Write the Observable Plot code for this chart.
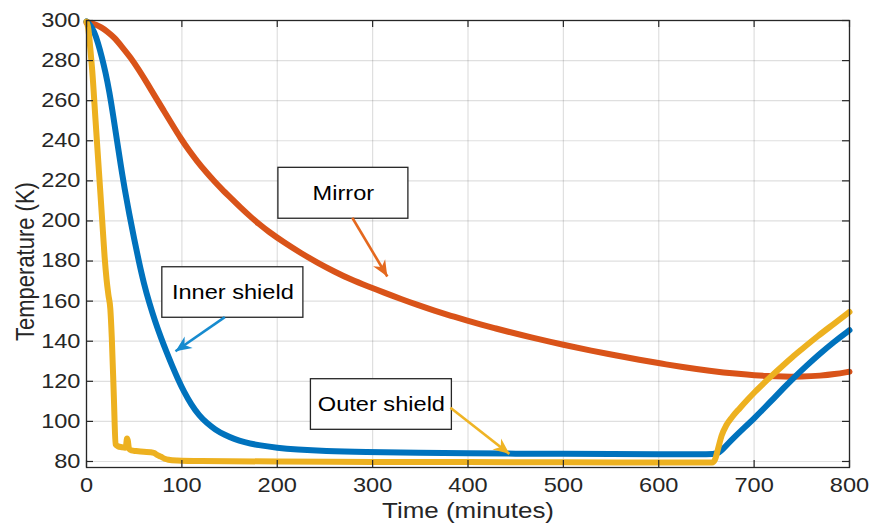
<!DOCTYPE html>
<html>
<head>
<meta charset="utf-8">
<script src="https://cdn.jsdelivr.net/npm/d3@7"></script>
<script src="https://cdn.jsdelivr.net/npm/@observablehq/plot@0.6"></script>
<style>
  html, body { margin: 0; padding: 0; background: #ffffff; }
  #chart { width: 873px; height: 529px; }
</style>
</head>
<body>
<div id="chart"></div>
<script>
// ---------- data ----------
const mirrorTime = [0, 4, 10, 15, 22, 29, 37, 46, 55, 64, 72, 81, 90, 99, 108, 116, 125, 134, 142, 151, 161, 172, 181, 190, 207, 225, 242, 260, 277, 295, 312, 330, 347, 365, 382, 400, 414, 428, 440, 466, 501, 530, 554, 580, 603, 624, 652, 687, 700, 714, 730, 750, 770, 784, 800];
const mirrorTemp = [299, 298.8, 298, 296.7, 294.5, 291.6, 287, 281.7, 275.3, 268.4, 262, 255, 248, 241, 234.8, 229.8, 224.6, 219.8, 215.8, 211.6, 206.9, 202.1, 198.4, 195, 189.3, 183.9, 179.2, 174.7, 170.8, 167.4, 164.3, 161, 158.1, 155.2, 152.7, 150.2, 148.3, 146.5, 145, 141.9, 138.1, 135.2, 133, 130.7, 128.8, 127.2, 125.3, 123.5, 123, 122.6, 122.3, 122.3, 122.8, 123.5, 124.8];

const innerTime = [0, 4, 8, 12, 16, 20, 24, 28, 32, 36, 40, 45, 50, 55, 60, 66, 72, 78, 84, 90, 96, 102, 110, 118, 126, 135, 145, 155, 165, 180, 200, 220, 250, 290, 350, 400, 450, 500, 550, 600, 640, 659, 663, 667, 672, 679, 690, 701, 712, 720, 730, 742, 755, 767, 784, 800];
const innerTemp = [299.5, 297.8, 294.5, 289, 282, 274, 264.5, 252.5, 240, 227.5, 216, 203, 191, 179.5, 169, 158.8, 149.8, 141.8, 134.5, 127.5, 121, 115, 108.3, 103, 99.2, 95.9, 93.2, 91.2, 89.7, 88.1, 86.8, 86, 85.2, 84.7, 84.3, 84.1, 83.9, 83.8, 83.7, 83.6, 83.6, 83.6, 84.4, 86, 88.6, 92, 97, 102, 107.3, 111.2, 116.2, 122, 127.8, 133, 139.8, 145.5];

const outerTime = [0, 2, 4, 6, 9.5, 13, 16.5, 19, 21, 23, 25, 26.5, 28.7, 30.5, 33, 37, 40.5, 41.5, 42.5, 43.3, 44.5, 47, 52, 60, 67, 71, 74, 78, 82, 86, 95, 120, 200, 300, 400, 500, 600, 656, 659, 662, 666, 671, 677, 685, 693, 701, 710, 718, 730, 740, 750, 767, 784, 800];
const outerTemp = [299.5, 295.5, 286, 275, 250, 225, 200, 182, 171, 163, 156, 142, 112, 88.5, 87.6, 87.1, 86.8, 88, 91.5, 90.5, 86.5, 85.5, 85.2, 84.8, 84.6, 84.2, 83.3, 82.4, 81.4, 80.9, 80.5, 80.2, 80, 79.8, 79.7, 79.6, 79.5, 79.5, 81, 86, 93, 98.2, 102.2, 106.6, 110.8, 114.8, 119, 122.6, 127.8, 132, 136, 142.6, 148.8, 154.6];

const xTicks = [0, 100, 200, 300, 400, 500, 600, 700, 800];
const yTicks = [80, 100, 120, 140, 160, 180, 200, 220, 240, 260, 280, 300];

const xLabel = "Time (minutes)";
const yLabel = "Temperature (K)";

// annotation boxes and arrows, in data units (minutes, K)
const noteText = ["Mirror", "Inner shield", "Outer shield"];
const noteBoxT1 = [201.2, 79.5, 235.3];
const noteBoxT2 = [337.5, 227.4, 383.1];
const noteBoxK1 = [201.1, 151.7, 95.8];
const noteBoxK2 = [226.5, 176.9, 121.05];
const arrowT1 = [278.7, 145.0, 381.6];
const arrowK1 = [201.6, 152.0, 106.8];
const arrowT2 = [315.4, 93.3, 443.4];
const arrowK2 = [172.3, 135.0, 83.8];

// ---------- styles ----------
const colMirror = "#D95319", colInner = "#0072BD", colOuter = "#EDB120";
const arrowColors = ["#E4681E", "#178BCF", "#EFB425"];
const ink = "#262626";

const rows = (ts, ks) => ts.map((t, i) => ({t, k: ks[i]}));
const notes = noteText.map((s, i) => ({s, i}));

const plotW = 873 - 86 - 24, plotH = 529 - 20 - 62;

const svg = Plot.plot({
  width: 873,
  height: 529,
  marginLeft: 86,
  marginRight: 24,
  marginTop: 20,
  marginBottom: 62,
  style: {fontFamily: "'Liberation Sans', Arial, Helvetica, sans-serif", color: ink, background: "#ffffff", overflow: "visible"},
  x: {domain: [0, 800]},
  y: {domain: [77, 300]},
  marks: [
    Plot.gridX(xTicks, {stroke: ink, strokeOpacity: 0.15, strokeWidth: 1.2}),
    Plot.gridY(yTicks, {stroke: ink, strokeOpacity: 0.15, strokeWidth: 1.2}),
    Plot.line(rows(mirrorTime, mirrorTemp), {x: "t", y: "k", stroke: colMirror, strokeWidth: 6, curve: "basis"}),
    Plot.line(rows(innerTime, innerTemp), {x: "t", y: "k", stroke: colInner, strokeWidth: 6, curve: "basis"}),
    Plot.line(rows(outerTime, outerTemp), {x: "t", y: "k", stroke: colOuter, strokeWidth: 6, curve: "monotone-x"}),
    Plot.rect(notes, {x1: d => noteBoxT1[d.i], x2: d => noteBoxT2[d.i], y1: d => noteBoxK1[d.i], y2: d => noteBoxK2[d.i], fill: "#ffffff", stroke: ink, strokeWidth: 1.3}),
    Plot.text(notes, {x: d => (noteBoxT1[d.i] + noteBoxT2[d.i]) / 2, y: d => (noteBoxK1[d.i] + noteBoxK2[d.i]) / 2, text: "s", fontSize: 20, fill: "#000000"}),
    ...notes.map(d => Plot.link([d], {x1: e => arrowT1[e.i], y1: e => arrowK1[e.i], x2: e => arrowT2[e.i], y2: e => arrowK2[e.i], stroke: arrowColors[d.i], strokeWidth: 2.6})),
    Plot.tickX(xTicks, {x: d => d, insetTop: plotH - 7, stroke: ink, strokeWidth: 1.2}),
    Plot.tickX(xTicks, {x: d => d, insetBottom: plotH - 7, stroke: ink, strokeWidth: 1.2}),
    Plot.tickY(yTicks, {y: d => d, insetRight: plotW - 7, stroke: ink, strokeWidth: 1.2}),
    Plot.tickY(yTicks, {y: d => d, insetLeft: plotW - 7, stroke: ink, strokeWidth: 1.2}),
    Plot.frame({stroke: ink, strokeWidth: 1.3}),
    Plot.axisX(xTicks, {tickSize: 0, tickPadding: 10, fontSize: 20, label: null, fill: ink}),
    Plot.axisY(yTicks, {tickSize: 0, tickPadding: 6, fontSize: 20, label: null, fill: ink}),
    Plot.text([xLabel], {frameAnchor: "bottom", dy: 50, lineAnchor: "bottom", textAnchor: "middle", fontSize: 22, fill: ink}),
    Plot.text([yLabel], {frameAnchor: "left", dx: -53, dy: 17.5, rotate: -90, lineAnchor: "bottom", textAnchor: "middle", fontSize: 22, fill: ink})
  ]
});

// horizontal stretch of all lettering (the reference is rendered wide)
const S = 1.18;
svg.querySelectorAll("text").forEach(el => {
  let tr = el.getAttribute("transform");
  if (tr) {
    if (tr.includes("rotate(")) tr = tr.replace("rotate(", `scale(${S},1) rotate(`);
    else tr = tr + ` scale(${S},1)`;
    el.setAttribute("transform", tr);
  } else {
    const x = parseFloat(el.getAttribute("x") || "0");
    el.setAttribute("x", "0");
    el.setAttribute("transform", `translate(${x},0) scale(${S},1)`);
  }
});

// filled, notched arrow heads like MATLAB annotation arrows
const root = d3.select(svg);
const defs = root.insert("defs", ":first-child");
root.selectAll("g[aria-label='link'] path").each(function (_, i) {
  const c = this.getAttribute("stroke") || d3.select(this.parentNode).attr("stroke");
  const id = "ahead" + i;
  defs.append("marker")
    .attr("id", id)
    .attr("markerUnits", "userSpaceOnUse")
    .attr("viewBox", "-17 -9 18 18")
    .attr("refX", 0).attr("refY", 0)
    .attr("markerWidth", 18).attr("markerHeight", 18)
    .attr("orient", "auto")
    .append("path")
    .attr("d", "M0,0 L-16,-7 L-11,0 L-16,7 Z")
    .attr("fill", c);
  this.setAttribute("marker-end", `url(#${id})`);
});

document.getElementById("chart").appendChild(svg);
</script>
</body>
</html>
